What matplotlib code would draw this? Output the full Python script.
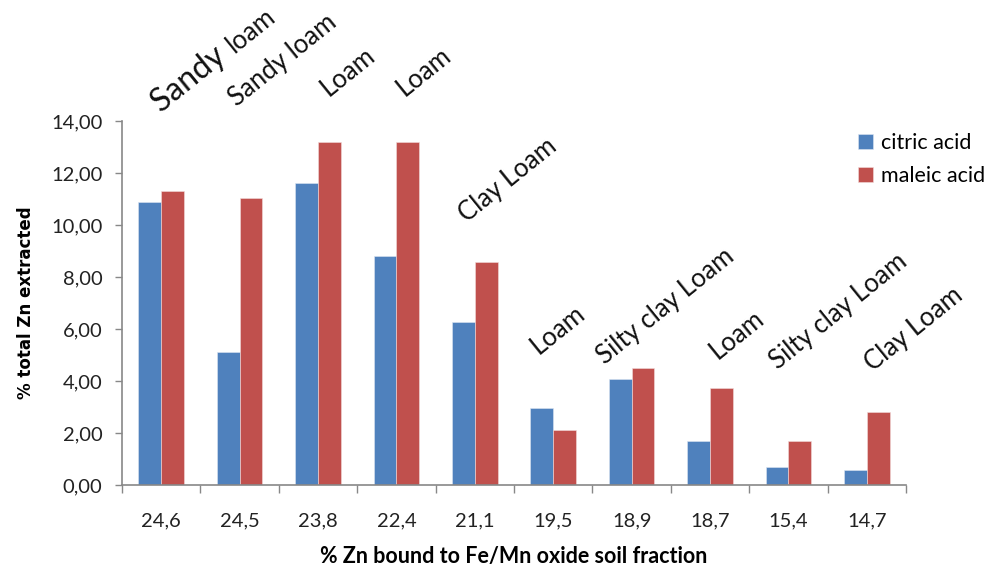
import numpy as np
import matplotlib.pyplot as plt

plt.rcParams['font.family'] = ['Lato', 'DejaVu Sans']

# Datos
fe_mn = ["24,6", "24,5", "23,8", "22,4", "21,1", "19,5", "18,9", "18,7", "15,4", "14,7"]
citric = [10.90, 5.13, 11.60, 8.80, 6.26, 2.95, 4.08, 1.69, 0.70, 0.56]
maleic = [11.32, 11.04, 13.20, 13.20, 8.58, 2.12, 4.51, 3.74, 1.69, 2.82]
textura = ["Sandy loam", "Sandy loam", "Loam", "Loam", "Clay Loam", "Loam",
           "Silty clay Loam", "Loam", "Silty clay Loam", "Clay Loam"]
# posicion de cada etiqueta de textura (desplazamiento x, altura y)
tex_dx = [0.0, -0.03, 0.13, 0.10, -0.10, -0.18, -0.34, 0.10, -0.14, 0.08]
tex_y = [14.30, 14.54, 14.92, 14.92, 10.08, 5.0, 4.6, 4.8, 4.42, 4.35]
yticks = [0, 2, 4, 6, 8, 10, 12, 14]
ytick_labels = ["0,00", "2,00", "4,00", "6,00", "8,00", "10,00", "12,00", "14,00"]

azul = "#4F81BD"
rojo = "#C0504D"
gris = "#888888"
ANG = 39
FS_TEX = 18.5

fig = plt.figure(figsize=(9.95, 5.67), dpi=100)
ax = fig.add_axes([0.1226, 0.1446, 0.788, 0.642])

x = np.arange(len(fe_mn))
w = 0.29
ax.bar(x - w / 2, citric, w, color=azul, edgecolor="#dce6f2", linewidth=0.4, label="citric acid")
ax.bar(x + w / 2, maleic, w, color=rojo, edgecolor="#f2dcdb", linewidth=0.4, label="maleic acid")

ax.set_xlim(-0.5, len(fe_mn) - 0.5)
ax.set_ylim(0, 14)
ax.set_yticks(yticks)
ax.set_yticklabels(ytick_labels, fontsize=14.5, color="#222222")
ax.set_xticks(x)
ax.set_xticklabels(fe_mn, fontsize=14.5, color="#222222")
ax.tick_params(axis="x", length=0, pad=20)
ax.set_xticks(np.arange(-0.5, len(fe_mn)), minor=True)
ax.tick_params(axis="x", which="minor", length=6, color=gris, width=1)
ax.tick_params(axis="y", length=5, color=gris, width=1, pad=9)

for s in ["top", "right"]:
    ax.spines[s].set_visible(False)
for s in ["left", "bottom"]:
    ax.spines[s].set_color(gris)
    ax.spines[s].set_linewidth(1.2)

ax.set_ylabel("% total Zn extracted", fontsize=12, fontweight="bold", labelpad=12,
              family="DejaVu Sans")
ax.set_xlabel("% Zn bound to Fe/Mn oxide soil fraction", fontsize=15.5, fontweight="bold",
              labelpad=12)

# etiquetas de textura del suelo
for i, t in enumerate(textura):
    if i == 0:
        continue
    ax.text(x[i] + tex_dx[i], tex_y[i], t, rotation=ANG, rotation_mode="anchor",
            ha="left", va="baseline", fontsize=FS_TEX, color="#111111", clip_on=False)

# primera etiqueta: "Sandy" mas grande
t0 = ax.text(x[0] + tex_dx[0], tex_y[0], "Sandy ", rotation=0, ha="left", va="baseline",
             fontsize=23, color="#111111")
fig.canvas.draw()
ancho = t0.get_window_extent().width * 72 / fig.dpi
t0.set_rotation(ANG)
t0.set_rotation_mode("anchor")
t0.set_clip_on(False)
ang = np.deg2rad(ANG)
ax.annotate("loam", xy=(x[0] + tex_dx[0], tex_y[0]), xycoords="data",
            xytext=(ancho * np.cos(ang), ancho * np.sin(ang)), textcoords="offset points",
            rotation=ANG, rotation_mode="anchor", ha="left", va="baseline",
            fontsize=FS_TEX, color="#111111", annotation_clip=False)

fig.legend(loc="upper left", bbox_to_anchor=(0.845, 0.795), frameon=False, fontsize=15.5,
           handlelength=0.7, handleheight=0.7, handletextpad=0.35, labelspacing=0.6,
           borderpad=0.3)

fig.savefig("out.png", dpi=100)
